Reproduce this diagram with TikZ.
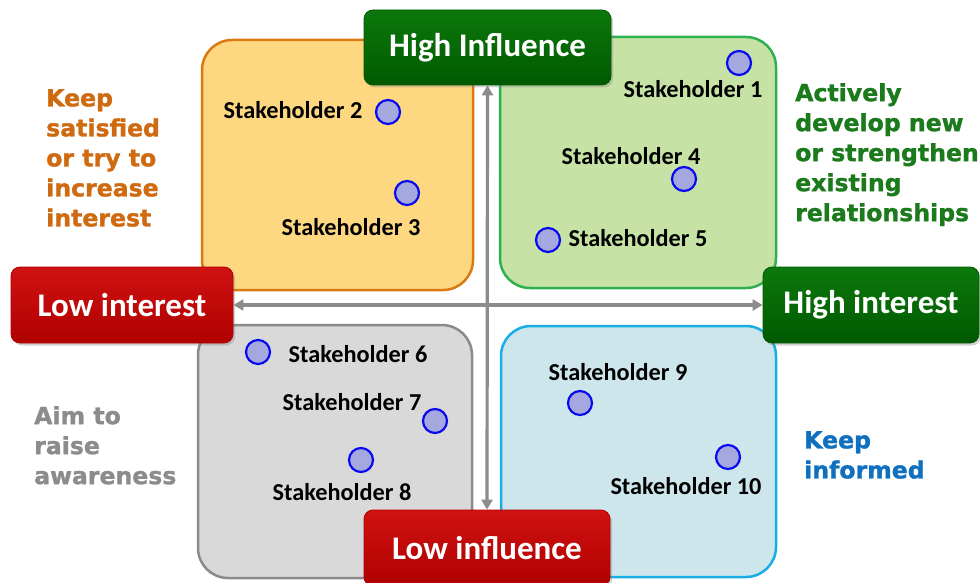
\documentclass[tikz,border=0pt]{standalone}
\usepackage{fontspec}
\setmainfont{Carlito}
\newfontfamily\notefont{DejaVu Sans}[BoldFeatures={FakeBold=1.3}]
\usetikzlibrary{arrows.meta,shadows}

\definecolor{orangefill}{HTML}{FDD880}
\definecolor{orangeline}{HTML}{D97A12}
\definecolor{greenfill}{HTML}{C6E3A5}
\definecolor{greenline}{HTML}{2FB050}
\definecolor{grayfill}{HTML}{D9D9D9}
\definecolor{grayline}{HTML}{8A8A8A}
\definecolor{bluefill}{HTML}{CDE6EB}
\definecolor{blueline}{HTML}{19ADE6}
\definecolor{dotfill}{HTML}{A4A8DF}
\definecolor{dotline}{HTML}{0A0AF0}
\definecolor{tagtopgreen}{HTML}{0C780C}
\definecolor{tagbotgreen}{HTML}{005A00}
\definecolor{tagtopred}{HTML}{D01212}
\definecolor{tagbotred}{HTML}{B00000}
\definecolor{noteorange}{HTML}{CF6A10}
\definecolor{notegreen}{HTML}{1B7A1B}
\definecolor{notegray}{HTML}{8C8C8C}
\definecolor{noteblue}{HTML}{1070C0}
\definecolor{axisgray}{HTML}{8C8C8C}

\tikzset{
  quad/.style={draw, line width=2.5pt, rounded corners=30pt, inner sep=0pt},
  tag/.style={rounded corners=9pt, inner sep=0pt, text=white,
    font=\bfseries\fontsize{33}{36}\selectfont,
    drop shadow={shadow xshift=2pt, shadow yshift=-2.5pt, opacity=0.35}},
  greentag/.style={tag, top color=tagtopgreen, bottom color=tagbotgreen, draw=tagbotgreen, line width=0.8pt},
  redtag/.style={tag, top color=tagtopred, bottom color=tagbotred, draw=tagbotred, line width=0.8pt},
  sdot/.style={circle, draw=dotline, fill=dotfill, line width=2.2pt, minimum size=24pt, inner sep=0pt},
  holder/.style={inner sep=0pt, font=\bfseries\fontsize{24.3}{26}\selectfont},
  note/.style={inner sep=0pt, anchor=north west, align=left,
    font=\notefont\bfseries\fontsize{23.6}{30}\selectfont},
  axis/.style={draw=axisgray, line width=3.2pt, {Triangle[length=10pt,width=11pt]}-{Triangle[length=10pt,width=11pt]}}
}

\begin{document}
\begin{tikzpicture}[x=1pt, y=-1pt]
\useasboundingbox (0,0) rectangle (980,583);
\clip (0,0) rectangle (980,583);

% quadrant panels
\node[quad, fill=orangefill, draw=orangeline, minimum width=271pt, minimum height=250pt] (qtl) at (337.5,165) {};
\node[quad, fill=greenfill, draw=greenline, minimum width=276pt, minimum height=251pt] (qtr) at (638,162.5) {};
\node[quad, fill=grayfill, draw=grayline, minimum width=274pt, minimum height=253pt] (qbl) at (335,451.5) {};
\node[quad, fill=bluefill, draw=blueline, minimum width=275pt, minimum height=251pt] (qbr) at (638.5,451.5) {};

% axis tags
\node[greentag, minimum width=247pt, minimum height=75pt] (hinf) at (487.5,47.5) {High Influence};
\node[redtag, minimum width=222pt, minimum height=76pt] (lint) at (122,305) {Low interest};
\node[greentag, minimum width=216pt, minimum height=76pt] (hint) at (871,305) {High interest};
\node[redtag, minimum width=246pt, minimum height=76pt] (linf) at (487,548) {Low influence};

% axes
\draw[axis] (hinf.south) -- (linf.north);
\draw[axis] (lint.east) -- (hint.west);

% stakeholders
\node[sdot] (d1) at (739,63) {};
\node[holder] (s1) at (693,89) {Stakeholder 1};
\node[sdot] (d2) at (388,112) {};
\node[holder] (s2) at (293,110) {Stakeholder 2};
\node[sdot] (d3) at (407,193) {};
\node[holder] (s3) at (351,227) {Stakeholder 3};
\node[sdot] (d4) at (684,179) {};
\node[holder] (s4) at (631,156) {Stakeholder 4};
\node[sdot] (d5) at (548,240) {};
\node[holder] (s5) at (638,238) {Stakeholder 5};
\node[sdot] (d6) at (258,352) {};
\node[holder] (s6) at (358,354) {Stakeholder 6};
\node[sdot] (d7) at (435,421) {};
\node[holder] (s7) at (352,402) {Stakeholder 7};
\node[sdot] (d8) at (361,460) {};
\node[holder] (s8) at (342,492) {Stakeholder 8};
\node[sdot] (d9) at (580,403) {};
\node[holder] (s9) at (618,372) {Stakeholder 9};
\node[sdot] (d10) at (728,457) {};
\node[holder] (s10) at (686,486) {Stakeholder 10};

% strategy notes
\node[note, text=noteorange] (ntl) at (46,89) {Keep\\satisfied\\or try to\\increase\\interest};
\node[note, text=notegreen] (ntr) at (795,83) {Actively\\develop new\\or strengthen\\existing\\relationships};
\node[note, text=notegray] (nbl) at (34,406) {Aim to\\raise\\awareness};
\node[note, text=noteblue] (nbr) at (804,431) {Keep\\informed};
\end{tikzpicture}
\end{document}
